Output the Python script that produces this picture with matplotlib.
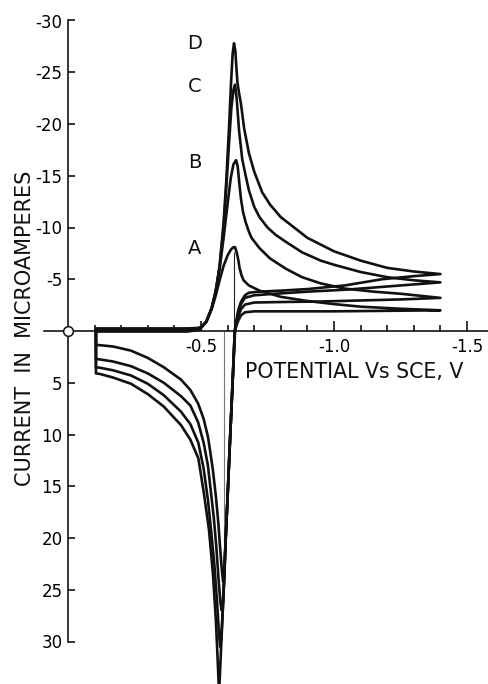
import numpy as np
import matplotlib
matplotlib.use("Agg")
import matplotlib.pyplot as plt

# cyclic voltammograms A-D, potential (V vs SCE) and current (microamperes, cathodic negative)
a_pot = [-0.105, -0.30, -0.45, -0.49, -0.50, -0.52, -0.54, -0.555, -0.57, -0.585, -0.60, -0.612, -0.622, -0.628,
         -0.634, -0.640, -0.645, -0.652, -0.66, -0.68, -0.72, -0.80, -0.90, -1.00, -1.10, -1.25, -1.40,
         -1.20, -1.00, -0.80, -0.70, -0.665, -0.65, -0.64, -0.633, -0.628, -0.617, -0.610, -0.600, -0.593,
         -0.587, -0.583, -0.578, -0.572, -0.565, -0.556, -0.545, -0.535, -0.526, -0.51, -0.489, -0.46, -0.425,
         -0.36, -0.30, -0.237, -0.17, -0.12, -0.105, -0.105]
a_cur = [0.05, 0.05, 0.05, -0.1, -0.3, -0.9, -2.1, -3.4, -4.9, -6.3, -7.3, -7.85, -8.1, -8.1,
         -7.6, -6.9, -6.1, -5.4, -4.9, -4.4, -3.9, -3.3, -2.9, -2.6, -2.35, -2.15, -2.0,
         -1.95, -1.9, -1.9, -1.9, -1.8, -1.5, -1.0, -0.5, 0.0, 6.0, 10.0, 16.0, 20.0,
         23.5, 24.2, 23.0, 21.0, 18.5, 16.0, 13.5, 11.7, 10.2, 8.5, 7.0, 5.7, 4.7,
         3.5, 2.6, 1.9, 1.5, 1.37, 1.35, 0]

b_pot = [-0.105, -0.30, -0.45, -0.49, -0.50, -0.52, -0.54, -0.555, -0.57, -0.585, -0.60, -0.612, -0.622, -0.632,
         -0.638, -0.644, -0.65, -0.658, -0.668, -0.68, -0.69, -0.72, -0.76, -0.82, -0.88, -0.95, -1.04, -1.15,
         -1.25, -1.40,
         -1.25, -1.10, -0.95, -0.80, -0.70, -0.665, -0.65, -0.64, -0.633, -0.627, -0.617, -0.610, -0.600, -0.593,
         -0.587, -0.582, -0.578, -0.573, -0.566, -0.558, -0.548, -0.537, -0.526, -0.51, -0.489, -0.46, -0.425,
         -0.36, -0.30, -0.237, -0.17, -0.12, -0.105, -0.105]
b_cur = [-0.05, -0.05, -0.05, -0.15, -0.3, -0.9, -2.2, -3.8, -6.0, -9.0, -12.3, -14.8, -16.1, -16.5,
         -15.9, -14.3, -12.8, -11.5, -10.5, -9.6, -9.0, -8.0, -7.0, -6.0, -5.2, -4.6, -4.1, -3.8,
         -3.6, -3.2,
         -3.05, -2.95, -2.85, -2.8, -2.75, -2.55, -2.1, -1.4, -0.7, 0.0, 6.0, 10.0, 16.0, 20.0,
         24.0, 26.5, 27.0, 26.2, 24.0, 21.0, 18.0, 15.5, 13.0, 10.8, 8.8, 7.2, 6.3,
         5.0, 4.1, 3.4, 2.95, 2.75, 2.7, 0]

c_pot = [-0.105, -0.30, -0.45, -0.49, -0.50, -0.52, -0.54, -0.555, -0.57, -0.585, -0.595, -0.605, -0.614, -0.622,
         -0.628, -0.634, -0.643, -0.655, -0.668, -0.68, -0.70, -0.72, -0.75, -0.78, -0.82, -0.88, -0.95, -1.00,
         -1.10, -1.20, -1.30, -1.40,
         -1.30, -1.20, -1.05, -0.90, -0.78, -0.70, -0.665, -0.65, -0.64, -0.633, -0.627, -0.617, -0.610, -0.600,
         -0.593, -0.587, -0.581, -0.576, -0.572, -0.567, -0.56, -0.55, -0.538, -0.526, -0.51, -0.49, -0.46,
         -0.425, -0.36, -0.30, -0.237, -0.17, -0.12, -0.105, -0.105]
c_cur = [-0.15, -0.15, -0.15, -0.2, -0.3, -0.9, -2.2, -3.8, -6.2, -10.0, -13.8, -18.0, -21.5, -23.3,
         -23.8, -22.5, -19.4, -16.6, -15.0, -13.6, -12.0, -11.0, -10.0, -9.3, -8.6, -7.6, -6.8, -6.4,
         -5.7, -5.2, -4.9, -4.7,
         -4.5, -4.3, -4.0, -3.8, -3.6, -3.45, -3.2, -2.6, -1.8, -0.9, 0.0, 6.0, 10.0, 16.0,
         20.0, 24.0, 27.5, 29.8, 30.5, 29.0, 26.0, 22.5, 19.3, 16.3, 13.3, 10.8, 9.0,
         7.8, 6.2, 5.1, 4.3, 3.8, 3.55, 3.5, 0]

d_pot = [-0.105, -0.30, -0.45, -0.49, -0.50, -0.52, -0.54, -0.555, -0.57, -0.585, -0.595, -0.605, -0.613, -0.619,
         -0.624, -0.629, -0.633, -0.637, -0.643, -0.650, -0.662, -0.68, -0.70, -0.73, -0.76, -0.80, -0.85, -0.90,
         -1.00, -1.10, -1.20, -1.30, -1.40,
         -1.30, -1.18, -1.04, -0.90, -0.80, -0.72, -0.68, -0.665, -0.65, -0.64, -0.633, -0.627, -0.617, -0.610,
         -0.600, -0.593, -0.587, -0.580, -0.574, -0.568, -0.563, -0.556, -0.545, -0.53, -0.511, -0.49, -0.46,
         -0.425, -0.36, -0.30, -0.237, -0.17, -0.12, -0.105, -0.105]
d_cur = [-0.25, -0.25, -0.25, -0.3, -0.4, -0.9, -2.2, -3.8, -6.3, -10.5, -14.5, -19.5, -24.0, -26.8,
         -27.8, -27.1, -25.5, -24.0, -23.0, -22.0, -19.6, -17.2, -15.4, -13.4, -12.2, -11.0, -10.0, -9.0,
         -7.7, -6.8, -6.1, -5.75, -5.5,
         -5.3, -5.0, -4.4, -4.05, -3.9, -3.8, -3.7, -3.45, -2.8, -2.0, -1.0, 0.0, 6.0, 10.0,
         16.0, 20.0, 24.0, 28.0, 31.5, 35.0, 32.0, 28.0, 23.5, 19.2, 15.7, 12.3, 10.5,
         9.1, 7.3, 6.1, 5.1, 4.5, 4.15, 4.1, 0]

curve_names = ["A", "B", "C", "D"]
label_pot = -0.477
label_cur = [-8.0, -16.3, -23.6, -27.8]

# thin peak-potential markers
marker_pot = [-0.624, -0.588]
marker_cur = [-7.6, 24.7]

y_ticks = [-30, -25, -20, -15, -10, -5, 5, 10, 15, 20, 25, 30]
x_major = [-0.5, -1.0, -1.5]
x_minor = [-0.1, -0.2, -0.3, -0.4, -0.6, -0.7, -0.8, -0.9, -1.1, -1.2, -1.3, -1.4]

plt.rcParams["axes.unicode_minus"] = False
plt.rcParams["font.family"] = ["DejaVu Sans"]

W, H = 489, 684
fig = plt.figure(figsize=(W / 100, H / 100), dpi=100)
ax = fig.add_axes([0, 0, 1, 1])

# pixel calibration
x0_px, px_per_v = 68.0, 266.0
y0_px, px_per_ua = 331.0, 10.35
ax.set_xlim(x0_px / px_per_v, -(W - x0_px) / px_per_v)
ax.set_ylim((H - y0_px) / px_per_ua, -y0_px / px_per_ua)

for pot, cur in [(a_pot, a_cur), (b_pot, b_cur), (c_pot, c_cur), (d_pot, d_cur)]:
    ax.plot(pot, cur, color="#111111", lw=1.9, solid_joinstyle="round", solid_capstyle="round", zorder=3)

ax.vlines(marker_pot[0], marker_cur[0], 0, color="#222222", lw=0.8, zorder=2)
ax.vlines(marker_pot[1], 0, marker_cur[1], color="#777777", lw=0.8, zorder=2)

for name, yc in zip(curve_names, label_cur):
    ax.text(label_pot, yc, name, fontsize=14, ha="center", va="center", color="#111111")

# axes through the origin
for s in ["top", "right"]:
    ax.spines[s].set_visible(False)
ax.spines["left"].set_position(("data", 0))
ax.spines["bottom"].set_position(("data", 0))
ax.spines["left"].set_bounds(-30, 30)
ax.spines["bottom"].set_bounds(0.09, -1.6)
ax.spines["left"].set_linewidth(1.1)
ax.spines["bottom"].set_linewidth(1.1)

ax.set_yticks(y_ticks)
ax.set_yticklabels([str(t) for t in y_ticks])
ax.set_xticks(x_major)
ax.set_xticklabels(["-0.5", "-1.0", "-1.5"])
ax.set_xticks(x_minor, minor=True)
ax.tick_params(axis="y", direction="in", length=5, width=1.1, labelsize=12, pad=4)
ax.tick_params(axis="x", which="major", direction="in", length=7, width=1.1, labelsize=12, pad=5)
ax.tick_params(axis="x", which="minor", direction="in", length=4, width=1.1)

ax.plot([0], [0], marker="o", ms=7, mfc="white", mec="#111111", mew=1.1, clip_on=False, zorder=5)

ax.text(-0.665, 4.0, "POTENTIAL Vs SCE, V", fontsize=14.8, ha="left", va="center", color="#111111")
fig.text(25 / W, 1 - 328 / H, "CURRENT  IN  MICROAMPERES", fontsize=15, rotation=90,
         ha="center", va="center", color="#111111")

fig.savefig("out.png", dpi=100, facecolor="white")
